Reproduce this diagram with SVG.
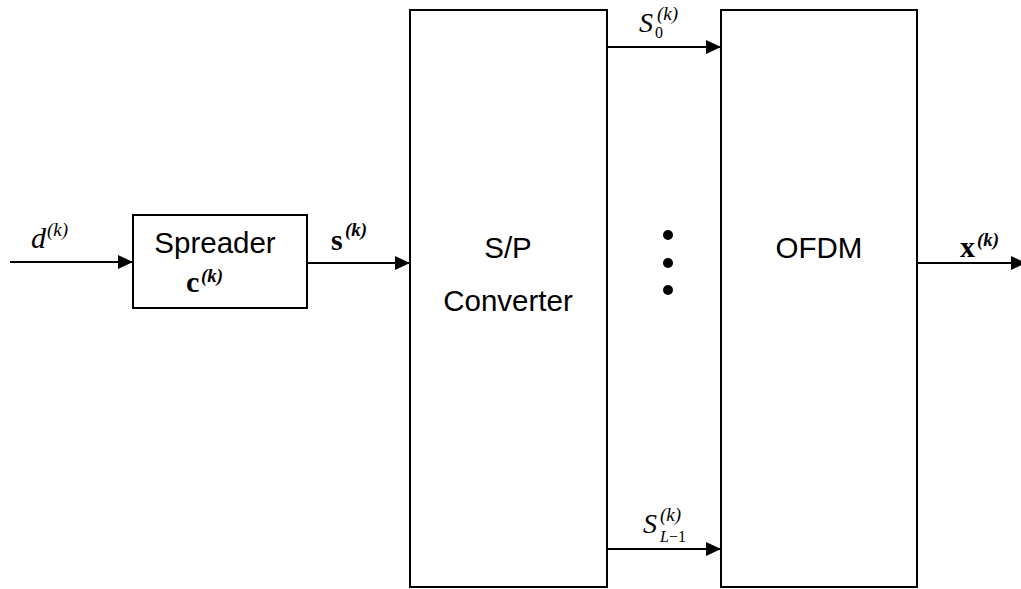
<svg xmlns="http://www.w3.org/2000/svg" width="1021" height="589" viewBox="0 0 1021 589">
<defs>
<style>
.box{fill:#fff;stroke:#000;stroke-width:2}
.lbl{font-family:"Liberation Sans",Arial,sans-serif;font-size:29.5px;fill:#000;text-anchor:middle}
.wire{stroke:#000;stroke-width:2;fill:none;marker-end:url(#ah)}
.m{font-family:"Liberation Serif","Times New Roman",serif;fill:#000}
.mi{font-style:italic}
.mb{font-weight:bold}
.sup{font-size:19px}
.sub{font-size:16px}
</style>
<marker id="ah" markerUnits="userSpaceOnUse" markerWidth="16" markerHeight="14" refX="15" refY="7" orient="auto">
<path d="M0,0 L15,7 L0,14 Z" fill="#000"/>
</marker>
</defs>
<rect width="1021" height="589" fill="#fff"/>
<g id="connectors">
<line class="wire" x1="10" y1="262" x2="133" y2="262"/>
<line class="wire" x1="307" y1="263" x2="410" y2="263"/>
<line class="wire" x1="607" y1="47" x2="721" y2="47"/>
<line class="wire" x1="607" y1="549" x2="721" y2="549"/>
<line class="wire" x1="917" y1="263" x2="1026" y2="263"/>
</g>
<g id="spreader">
<rect class="box" x="133" y="215" width="174" height="93"/>
<text class="lbl" x="215" y="253">Spreader</text>
<text class="m mb" x="186" y="292" font-size="30">c<tspan class="sup mi" x="201" y="282">(k)</tspan></text>
</g>
<g id="sp_converter">
<rect class="box" x="410" y="10" width="197" height="577"/>
<text class="lbl" x="508" y="258">S/P</text>
<text class="lbl" x="508" y="311">Converter</text>
</g>
<g id="dots">
<circle cx="668" cy="235" r="5"/>
<circle cx="668" cy="263" r="5"/>
<circle cx="668" cy="290" r="5"/>
</g>
<g id="ofdm">
<rect class="box" x="721" y="10" width="196" height="577"/>
<text class="lbl" x="819" y="258">OFDM</text>
</g>
<g id="labels">
<text class="m mi" x="31" y="248" font-size="30">d<tspan class="sup" x="47" y="236">(k)</tspan></text>
<text class="m mb" x="331" y="250" font-size="30">s<tspan class="sup mi" x="345" y="236">(k)</tspan></text>
<text class="m mi" x="639" y="32" font-size="28">S<tspan class="sup" x="657" y="20">(k)</tspan><tspan class="sub" font-style="normal" x="655" y="38">0</tspan></text>
<text class="m mi" x="643" y="533" font-size="28">S<tspan class="sup" x="660" y="521">(k)</tspan><tspan class="sub" x="660" y="542">L</tspan><tspan class="sub" font-style="normal">−1</tspan></text>
<text class="m mb" x="960" y="257" font-size="30">x<tspan class="sup mi" x="977" y="246">(k)</tspan></text>
</g>
</svg>
